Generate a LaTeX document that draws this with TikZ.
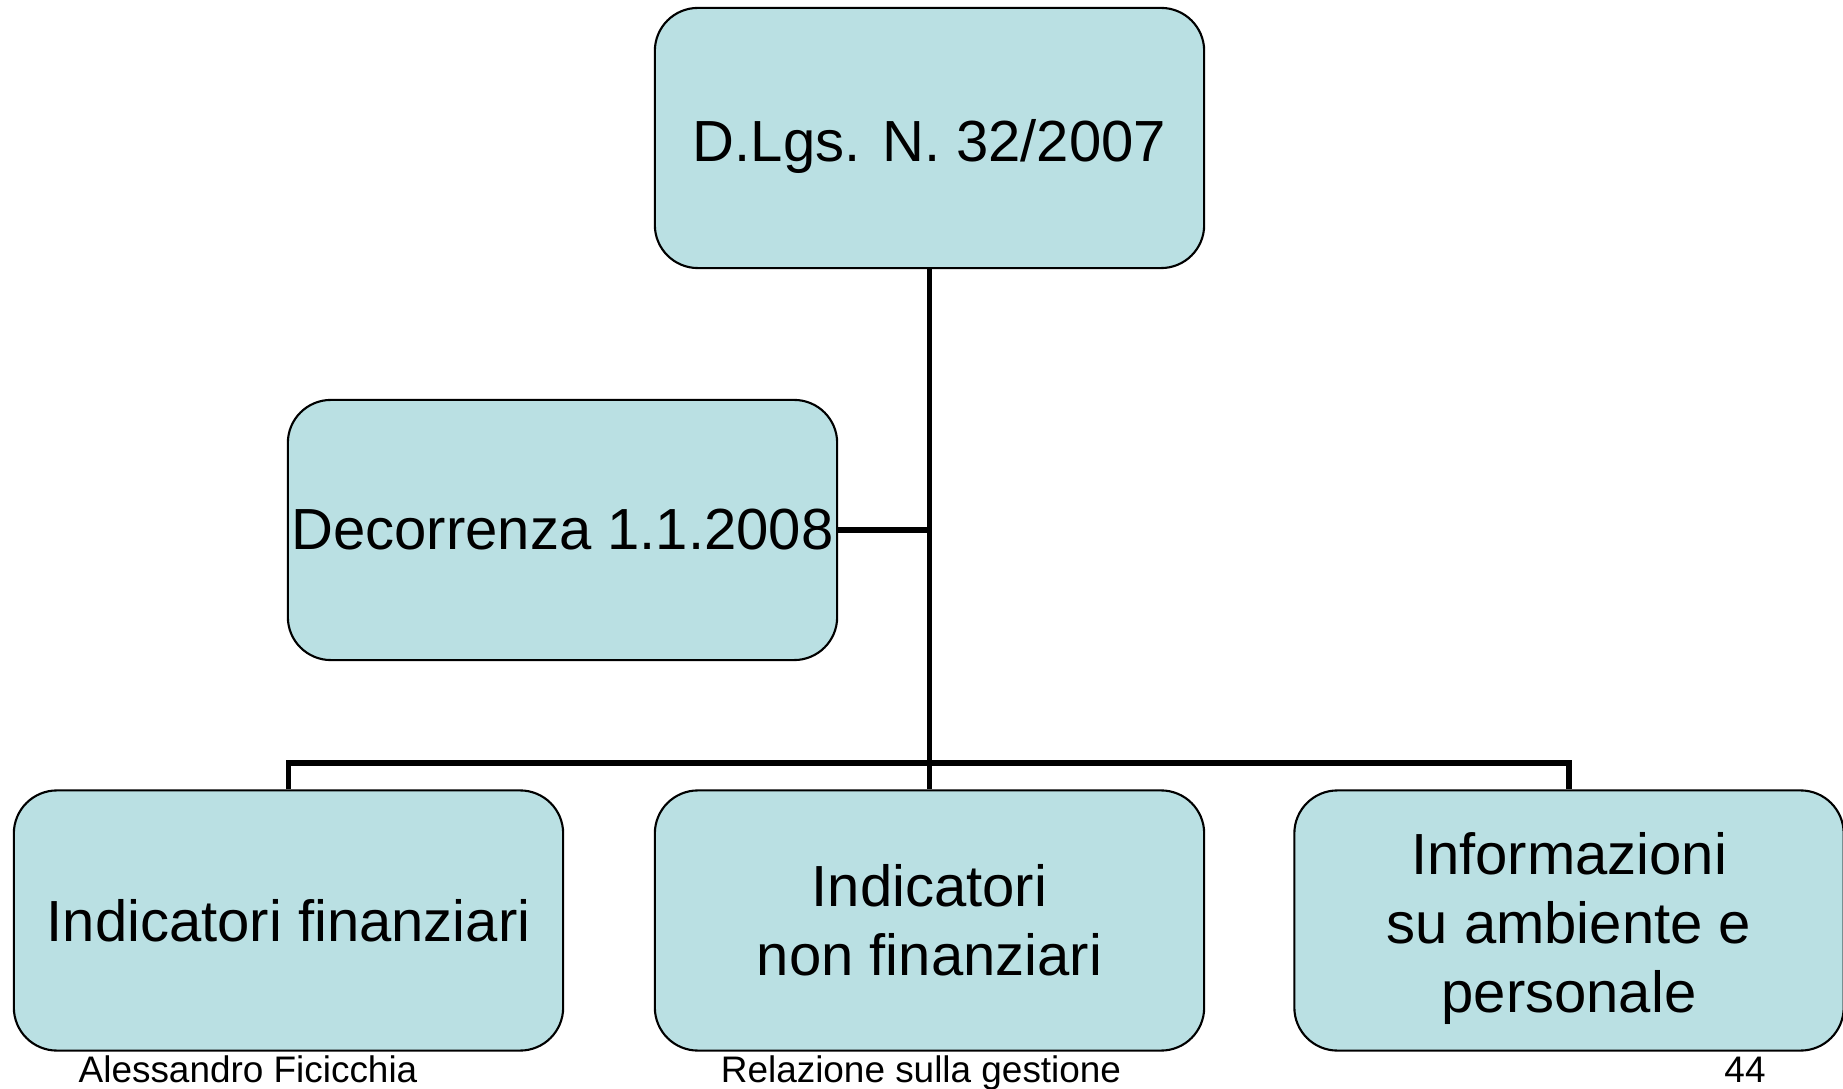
\documentclass[tikz,border=0pt]{standalone}
\usepackage{fontspec}
\setmainfont{Liberation Sans}
\usetikzlibrary{positioning}
\definecolor{boxfill}{RGB}{186,224,227}

\begin{document}
\begin{tikzpicture}[x=0.01cm, y=-0.01cm,
    every node/.style={font=\fontsize{16.5}{19.6}\selectfont},
    orgbox/.style={draw=black, line width=0.6pt, fill=boxfill, rounded corners=0.43cm,
        minimum width=5.49cm, minimum height=2.6cm, inner sep=0pt, align=center},
    link/.style={line width=1.6pt},
    foot/.style={font=\fontsize{10.5}{12}\selectfont, anchor=base, inner sep=0pt}]
    \useasboundingbox (0,0) rectangle (1843,1089);

    % boxes
    \node[orgbox, text height=17pt, text depth=3.5pt] (law) at (929.5,138) {D.Lgs. N. 32/2007};
    \node[orgbox] (start) at (562.5,530) {Decorrenza 1.1.2008};
    \node[orgbox] (fin) at (288.5,920.5) {Indicatori finanziari};
    \node[orgbox] (nonfin) at (929.5,920.5) {Indicatori\\non finanziari};
    \node[orgbox] (info) at (1569,920.5) {\rule{0pt}{16.6pt}Informazioni\\su ambiente e\\personale};

    % connectors
    \coordinate (bus) at (929.5,763);
    \draw[link] (law.south) -- (nonfin.north);
    \draw[link] (start.east) -- (start.east -| law.south);
    \draw[link] (fin.north) |- (bus) -| (info.north);

    % footer
    \node[foot, anchor=base west] (author) at (78,1082) {Alessandro Ficicchia};
    \node[foot] (title) at (921,1082) {Relazione sulla gestione};
    \node[foot] (page) at (1745,1082) {44};
\end{tikzpicture}
\end{document}
